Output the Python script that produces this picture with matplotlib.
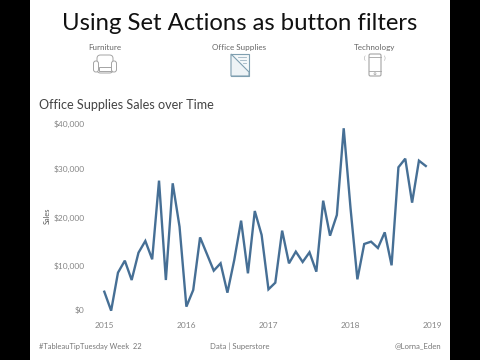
import matplotlib
matplotlib.use('Agg')
import matplotlib.pyplot as plt
from matplotlib.patches import Rectangle, FancyBboxPatch, Circle, Polygon

plt.rcParams['font.family'] = ['Lato', 'DejaVu Sans']

sales = [4700, 790, 8630, 11100, 7110, 12750, 15160, 11380, 27600, 7110, 27050, 18100,
         1620, 5050, 15900, 12480, 9040, 10550, 4500, 11240, 19350, 8490, 21340, 16400,
         5190, 6560, 17290, 10550, 12960, 10830, 12820, 8830, 23470, 16250, 20520, 38400,
         21900, 7250, 14540, 15020, 13710, 16940, 10140, 30350, 32130, 23060, 31720, 30620]
year_labels = ['2015', '2016', '2017', '2018', '2019']
year_ticks = [0, 12, 24, 36, 48]
y_ticks = [0, 10000, 20000, 30000, 40000]
y_labels = ['$0', '$10,000', '$20,000', '$30,000', '$40,000']
categories = ['Furniture', 'Office Supplies', 'Technology']
category_x = [105, 239, 375]

W, H = 480, 360
LINE = '#466f95'
GREY = '#858585'
ICON = '#a4a4a4'

fig = plt.figure(figsize=(4.8, 3.6), dpi=100, facecolor='black')

# page in pixel coordinates, y going down
page = fig.add_axes([0, 0, 1, 1])
page.set_xlim(0, W)
page.set_ylim(H, 0)
page.axis('off')
page.add_patch(Rectangle((30, 0), 420, H, fc='white', ec='none'))

page.text(240, 24, 'Using Set Actions as button filters', fontsize=17.2, color='#111111',
          ha='center', va='center')
for name, cx in zip(categories, category_x):
    page.text(cx, 47.5, name, fontsize=5.8, color='#666666', ha='center', va='center')
page.text(39, 105, 'Office Supplies Sales over Time', fontsize=9.1, color='#444444',
          ha='left', va='center')
page.text(39, 346, '#TableauTipTuesday Week  22', fontsize=5.4, color='#777777', va='center')
page.text(240, 346, 'Data | Superstore', fontsize=5.6, color='#777777', ha='center', va='center')
page.text(441, 346, '@Lorna_Eden', fontsize=5.6, color='#777777', ha='right', va='center')

# chair icon
page.add_patch(FancyBboxPatch((97, 55), 16, 18, boxstyle='round,pad=0,rounding_size=3.5',
                              fc='none', ec=ICON, lw=0.7))
page.add_patch(Rectangle((99, 67), 12, 4, fc='white', ec=ICON, lw=0.7))
page.add_patch(FancyBboxPatch((93.5, 61), 5, 11, boxstyle='round,pad=0,rounding_size=2.4',
                              fc='white', ec=ICON, lw=0.7))
page.add_patch(FancyBboxPatch((111.5, 61), 5, 11, boxstyle='round,pad=0,rounding_size=2.4',
                              fc='white', ec=ICON, lw=0.7))

# folder icon
page.add_patch(Rectangle((231, 54), 18, 22, fc='#f4f8fa', ec='#7f9fb0', lw=0.8))
page.add_patch(Polygon([(231, 54), (249, 72), (249, 76), (231, 76)], closed=True,
                       fc='#eef3f6', ec='#7f9fb0', lw=0.8))
for y0, x0 in zip([57, 60, 63], [238, 240, 243]):
    page.plot([x0, 246], [y0, y0], color='#9fb5c2', lw=0.6)

# phone icon
page.add_patch(FancyBboxPatch((369, 54), 12, 22, boxstyle='round,pad=0,rounding_size=1.5',
                              fc='none', ec=ICON, lw=0.8))
page.plot([369, 381], [71, 71], color=ICON, lw=0.6)
page.plot([369, 381], [57, 57], color=ICON, lw=0.6)
page.add_patch(Circle((375, 73.7), 1, fc='none', ec=ICON, lw=0.5))
for x0 in (365, 385):
    page.text(x0, 58, ')' if x0 > 375 else '(', fontsize=4.5, color=ICON, ha='center', va='center')

# line chart
left, right, top, bottom = 90, 445, 115, 320
ax = fig.add_axes([left / W, 1 - bottom / H, (right - left) / W, (bottom - top) / H])
ax.patch.set_alpha(0)
ax.plot(range(len(sales)), sales, color=LINE, lw=1.7, solid_joinstyle='miter')
ax.set_xlim((left - 104.3) / 6.84, (right - 104.3) / 6.84)
ax.set_ylim((314.5 - bottom) / 48.5 * 10000, (314.5 - top) / 48.5 * 10000)
for s in ax.spines.values():
    s.set_visible(False)
ax.set_xticks(year_ticks)
ax.set_xticklabels(year_labels)
ax.set_yticks(y_ticks)
ax.set_yticklabels(y_labels)
ax.tick_params(length=0, labelsize=6, labelcolor=GREY)
ax.tick_params(axis='x', pad=1.5)
ax.tick_params(axis='y', pad=4)
ax.get_yticklabels()[0].set_verticalalignment('bottom')
ax.get_yticklabels()[-1].set_verticalalignment('top')
page.text(47, 216, 'Sales', fontsize=5.3, color='#555555', rotation=90, ha='center', va='center')

fig.savefig('out.png', dpi=100, facecolor='black')
